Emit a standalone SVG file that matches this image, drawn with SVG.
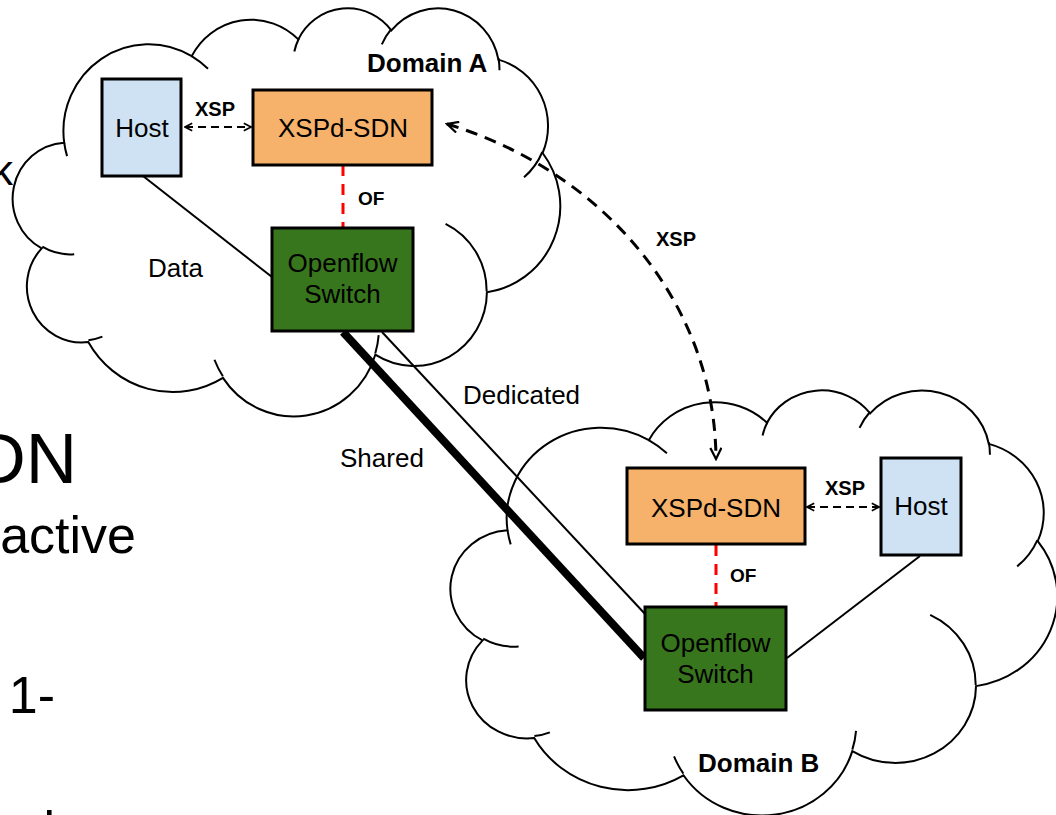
<svg xmlns="http://www.w3.org/2000/svg" xmlns:xlink="http://www.w3.org/1999/xlink" width="1056" height="815" viewBox="0 0 1056 815">
  <style>
    text { font-family: "Liberation Sans", Arial, sans-serif; fill: #000; }
    .cloud { fill: #fff; stroke: #000; stroke-width: 2; vector-effect: non-scaling-stroke; }
    .cloudInner { fill: none; stroke: #000; stroke-width: 2; vector-effect: non-scaling-stroke; }
    .box { stroke: #000; stroke-width: 3; }
    .host { fill: #cfe2f3; }
    .xspd { fill: #f6b26b; }
    .switch { fill: #38761d; }
    .nodeText { font-size: 26px; text-anchor: middle; }
    .lbl { font-size: 26px; }
    .bold { font-weight: bold; }
    .small { font-size: 20px; font-weight: bold; }
    .data { fill: none; stroke: #000; stroke-width: 2; }
    .xsp { fill: none; stroke: #000; stroke-width: 2; stroke-dasharray: 8 5; }
    .xspLong { fill: none; stroke: #000; stroke-width: 3; stroke-dasharray: 12 8; }
    .of { fill: none; stroke: #ff0000; stroke-width: 3; stroke-dasharray: 11 8; }
    .slide { font-size: 52px; }
  </style>
  <defs>
    <path id="cloudShape" class="cloud" d="M3900,14370 A6753,9190 0 0 1 14006,5203 A5333,7267 0 0 1 22458,3432 A4365,5945 0 0 1 29835,2480 A4857,6595 0 0 1 38320,5575 A5333,7273 0 0 1 41821,15459 A6775,9220 0 0 1 37407,30202 A5785,7867 0 0 1 28559,36812 A6752,9215 0 0 1 16484,39265 A7720,10543 0 0 1 5809,35474 A4360,5918 0 0 1 2117,25553 A4345,5945 0 0 1 3900,14370 Z"/>
    <path id="cloudLines" class="cloudInner" d="M4693,26177 A4345,5945 0 0 1 2160,25380 M6928,34899 A4360,5918 0 0 1 5819,35281 M16478,39090 A6752,9215 0 0 1 15810,37349 M28827,34751 A6752,9215 0 0 1 28561,36660 M34129,22954 A5785,7867 0 0 1 37381,30090 M41798,15354 A5333,7273 0 0 1 40350,18030 M38324,5426 A4857,6595 0 0 1 38400,6689 M29078,3952 A4857,6595 0 0 1 29820,2340 M22141,4720 A4365,5945 0 0 1 22500,3330 M14000,5192 A6753,9190 0 0 1 15299,6540 M4127,15789 A6753,9190 0 0 1 3900,14371"/>
    <marker id="arrowS" viewBox="0 0 10 10" refX="9" refY="5" markerWidth="9" markerHeight="10" orient="auto-start-reverse" markerUnits="userSpaceOnUse">
      <path d="M1,0.8 L9,5 L1,9.2" fill="none" stroke="#000" stroke-width="1.8" stroke-dasharray="none"/>
    </marker>
    <marker id="arrowL" viewBox="0 0 14 14" refX="13" refY="7" markerWidth="15" markerHeight="13" orient="auto-start-reverse" markerUnits="userSpaceOnUse">
      <path d="M1,1 L13,7 L1,13" fill="none" stroke="#000" stroke-width="2.4" stroke-dasharray="none"/>
    </marker>
  </defs>

  <rect x="0" y="0" width="1056" height="815" fill="#fff"/>

  <g id="domainA">
    <g transform="translate(15,7) scale(0.0126157,0.0094444)">
      <use href="#cloudShape" xlink:href="#cloudShape"/>
      <use href="#cloudLines" xlink:href="#cloudLines"/>
    </g>
    <text x="367" y="72" class="lbl bold">Domain A</text>
  </g>

  <g id="domainB">
    <g transform="translate(453,389) scale(0.0139815,0.0098380)">
      <use href="#cloudShape" xlink:href="#cloudShape"/>
      <use href="#cloudLines" xlink:href="#cloudLines"/>
    </g>
    <text x="698" y="772" class="lbl bold">Domain B</text>
  </g>

  <g id="slide-text-fragments">
    <text x="13" y="185" text-anchor="end" style="font-size:42px">k</text>
    <text x="77" y="483" text-anchor="end" style="font-size:71px">DN</text>
    <text x="136" y="553" text-anchor="end" class="slide">active</text>
    <text x="55" y="713" text-anchor="end" class="slide">1-</text>
    <text x="55" y="848" text-anchor="end" class="slide">l</text>
  </g>

  <g id="connectors">
    <path class="data" d="M143,176 L272,277"/>
    <path class="data" d="M787,658 L920,556"/>
    <text x="148" y="277" class="lbl">Data</text>
    <path class="of" d="M343,165 L343,228"/>
    <text x="358" y="205" style="font-size:19px;font-weight:bold">OF</text>
    <path class="of" d="M716,545 L716,607"/>
    <text x="730" y="582" style="font-size:19px;font-weight:bold">OF</text>
    <path class="xsp" d="M185,127 L251,127" marker-start="url(#arrowS)" marker-end="url(#arrowS)"/>
    <text x="195" y="116" class="small">XSP</text>
    <path class="xsp" d="M807,507 L879,507" marker-start="url(#arrowS)" marker-end="url(#arrowS)"/>
    <text x="825" y="495" class="small">XSP</text>
    <path class="xspLong" d="M447,124 C600,170 715,300 716,459" marker-start="url(#arrowL)" marker-end="url(#arrowL)"/>
    <text x="656" y="246" class="small">XSP</text>
    <path d="M343,332 L644,658" fill="none" stroke="#000" stroke-width="8"/>
    <path class="data" d="M382,332 L646,615"/>
    <text x="463" y="404" class="lbl">Dedicated</text>
    <text x="340" y="467" class="lbl">Shared</text>
  </g>

  <g id="hostA">
    <rect class="box host" x="102" y="79" width="79" height="97"/>
    <text x="142" y="137" class="nodeText">Host</text>
  </g>
  <g id="xspdA">
    <rect class="box xspd" x="253" y="90" width="179" height="75"/>
    <text x="343" y="137" class="nodeText">XSPd-SDN</text>
  </g>
  <g id="switchA">
    <rect class="box switch" x="272" y="228" width="141" height="103"/>
    <text x="342.5" y="272" class="nodeText">Openflow</text>
    <text x="342.5" y="303" class="nodeText">Switch</text>
  </g>

  <g id="xspdB">
    <rect class="box xspd" x="627" y="468" width="178" height="76"/>
    <text x="716" y="517" class="nodeText">XSPd-SDN</text>
  </g>
  <g id="hostB">
    <rect class="box host" x="881" y="458" width="80" height="97"/>
    <text x="921" y="515" class="nodeText">Host</text>
  </g>
  <g id="switchB">
    <rect class="box switch" x="645" y="607" width="141" height="103"/>
    <text x="715.5" y="652" class="nodeText">Openflow</text>
    <text x="715.5" y="683" class="nodeText">Switch</text>
  </g>
</svg>
